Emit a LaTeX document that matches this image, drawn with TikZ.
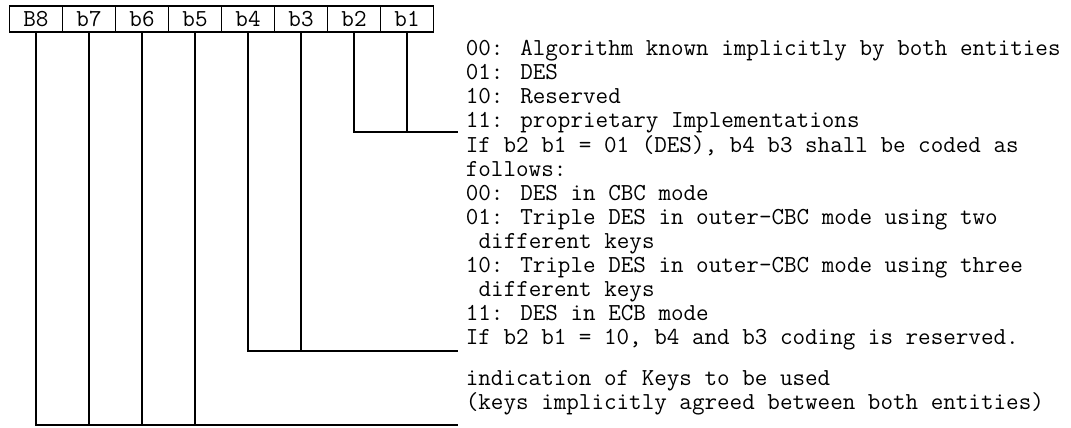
\documentclass[tikz,border=0pt]{standalone}
\usepackage{fontspec}
\usetikzlibrary{positioning}
\begin{document}
\begin{tikzpicture}[x=0.5pt,y=-0.5pt,line width=0.85pt,
	every node/.style={font=\ttfamily\fontsize{12.2}{12}\selectfont},
	bit/.style={draw,minimum width=26.5pt,minimum height=13pt,inner sep=0pt,outer sep=0pt},
	note/.style={anchor=base west,align=left,inner sep=0pt}]
	\useasboundingbox (0,0) rectangle (1071,428);
	% the byte
	\node[bit] (B8) at (36,19) {B8};
	\node[bit,right=0pt of B8] (b7) {b7};
	\node[bit,right=0pt of b7] (b6) {b6};
	\node[bit,right=0pt of b6] (b5) {b5};
	\node[bit,right=0pt of b5] (b4) {b4};
	\node[bit,right=0pt of b4] (b3) {b3};
	\node[bit,right=0pt of b3] (b2) {b2};
	\node[bit,right=0pt of b2] (b1) {b1};
	% codings (placed at the baseline of their last line)
	\node[note] (code21) at (465,127) {00: Algorithm known implicitly by both entities\\01: DES\\10: Reserved\\11: proprietary Implementations};
	\node[note] (code43) at (465,344) {If b2 b1 = 01 (DES), b4 b3 shall be coded as\\follows:\\00: DES in CBC mode\\01: Triple DES in outer-CBC mode using two\\\hspace*{0.525em}different keys\\10: Triple DES in outer-CBC mode using three\\\hspace*{0.525em}different keys\\11: DES in ECB mode\\If b2 b1 = 10, b4 and b3 coding is reserved.};
	\node[note] (code85) at (465,409) {indication of Keys to be used\\(keys implicitly agreed between both entities)};
	\coordinate (end21) at (458,131.7);
	\coordinate (end43) at (458,351);
	\coordinate (end85) at (458,425);
	% brackets
	\draw (b2.south) |- (end21);
	\draw (b1.south) -- (b1.south |- end21);
	\draw (b4.south) |- (end43);
	\draw (b3.south) -- (b3.south |- end43);
	\draw (B8.south) |- (end85);
	\draw (b7.south) -- (b7.south |- end85);
	\draw (b6.south) -- (b6.south |- end85);
	\draw (b5.south) -- (b5.south |- end85);
\end{tikzpicture}
\end{document}
